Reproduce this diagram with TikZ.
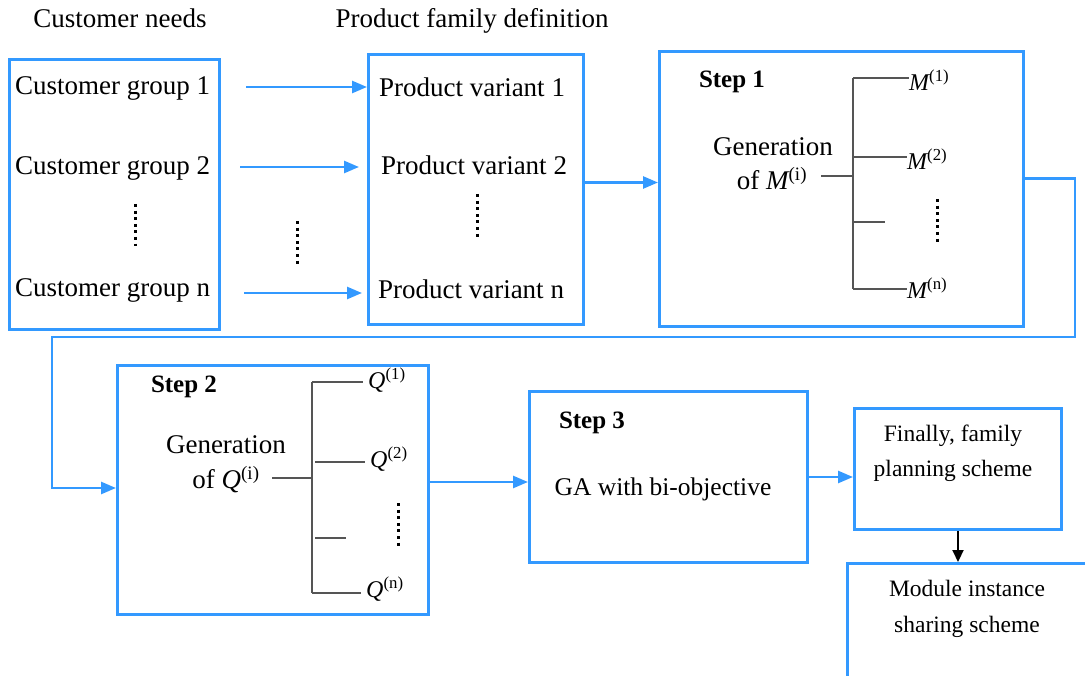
\documentclass[tikz,border=0pt]{standalone}
\usepackage{fontspec}
\setmainfont{Liberation Serif}
\usetikzlibrary{arrows.meta,calc}
\definecolor{bl}{HTML}{3399FF}
\definecolor{treegray}{HTML}{555555}
\begin{document}
\begin{tikzpicture}[x=1pt,y=-1pt,
  box/.style={draw=bl, line width=3pt, inner sep=0pt, anchor=north west, fill=white},
  txt/.style={inner sep=0pt, font=\fontsize{27}{30}\selectfont},
  stxt/.style={inner sep=0pt, font=\fontsize{23.5}{36}\selectfont, align=center},
  boldtxt/.style={inner sep=0pt, font=\fontsize{25}{28}\selectfont\bfseries},
  lbl/.style={inner sep=0pt, anchor=west, font=\fontsize{24}{28}\selectfont},
  arr/.style={draw=bl, line width=2.6pt, -{Triangle[length=15pt,width=12pt]}},
  blackarr/.style={draw=black, line width=2.2pt, -{Triangle[length=12pt,width=11pt]}},
  tree/.style={draw=treegray, line width=1.5pt},
  vdots/.style={line width=3pt, dash pattern=on 3pt off 3.6pt}
]
\clip (0,0) rectangle (1085,676);
\fill[white] (0,0) rectangle (1085,676);

% headings
\node[txt] (h1) at (120,18) {Customer needs};
\node[txt] (h2) at (472,21) {Product family definition};

% boxes
\node[box, minimum width=210pt, minimum height=270pt] (b1) at (8,58) {};
\node[box, minimum width=215pt, minimum height=270pt] (b2) at (367,53) {};
\node[box, minimum width=364pt, minimum height=275pt] (b3) at (658,50) {};
\node[box, minimum width=311pt, minimum height=249pt] (b4) at (116,364) {};
\node[box, minimum width=278pt, minimum height=171pt] (b5) at (528,390) {};
\node[box, minimum width=207pt, minimum height=121pt] (b6) at (853,407) {};
\node[box, minimum width=280pt, minimum height=160pt] (b7) at (846,562) {};

% box 1 content
\node[txt, anchor=west] (cg1) at (15,88) {Customer group 1};
\node[txt, anchor=west] (cg2) at (15,168) {Customer group 2};
\node[txt, anchor=west] (cgn) at (15,290) {Customer group n};
\coordinate (d1a) at (135,204);
\coordinate (d1b) at (135,246);
\draw[vdots] (d1a) -- (d1b);

% middle dots
\coordinate (dma) at (297,221);
\coordinate (dmb) at (297,265);
\draw[vdots] (dma) -- (dmb);

% box 2 content
\node[txt] (pv1) at (472,87) {Product variant 1};
\node[txt] (pv2) at (474,165) {Product variant 2};
\node[txt] (pvn) at (471,289) {Product variant n};
\coordinate (d2a) at (477,194);
\coordinate (d2b) at (477,238);
\draw[vdots] (d2a) -- (d2b);

% arrows customers -> variants
\coordinate (s1) at (246,87);
\coordinate (s2) at (240,167);
\coordinate (s3) at (244,293);
\draw[arr] (s1) -- (s1 -| b2.west);
\draw[arr] (s2) -- ($(s2 -| b2.west)+(-8,0)$);
\draw[arr] (s3) -- ($(s3 -| b2.west)+(-5,0)$);

% box 3 content
\node[boldtxt] (st1) at (732,82) {Step 1};
\node[txt] (gen1) at (773,147) {Generation};
\node[txt] (of1) at (772,179) {of {\itshape M}\textsuperscript{(i)}};
\coordinate (t1h) at (821,176);
\coordinate (t1j) at (853,176);
\coordinate (t1a) at (853,78);
\coordinate (t1b) at (853,157);
\coordinate (t1c) at (853,222);
\coordinate (t1d) at (853,289);
\draw[tree] (t1h) -- (t1j);
\draw[tree] (t1a) -- (t1d);
\node[lbl] (m1) at (909,80) {{\itshape M}\textsuperscript{(1)}};
\node[lbl] (m2) at (907,159) {{\itshape M}\textsuperscript{(2)}};
\node[lbl] (mn) at (907,288) {{\itshape M}\textsuperscript{(n)}};
\draw[tree] (t1a) -- (t1a -| m1.west);
\draw[tree] (t1b) -- (t1b -| m2.west);
\draw[tree] (t1c) -- ++(32,0);
\draw[tree] (t1d) -- (t1d -| mn.west);
\coordinate (d3a) at (937,199);
\coordinate (d3b) at (937,243);
\draw[vdots] (d3a) -- (d3b);

% b2 -> b3
\draw[arr] ($(b2.east)+(0,-7)$) -- ($(b2.east -| b3.west)+(0,-7)$);

% b3 -> b4
\coordinate (r1) at (1075,337);
\coordinate (r2) at (52,488);
\draw[arr] ($(b3.east)+(0,-10.5)$) -| (r1) -| (r2) -- (r2 -| b4.west);

% box 4 content
\node[boldtxt] (st2) at (184,387) {Step 2};
\node[txt] (gen2) at (226,445) {Generation};
\node[txt] (of2) at (226,480) {of {\itshape Q}\textsuperscript{(i)}};
\coordinate (t2h) at (272,478);
\coordinate (t2j) at (312,478);
\coordinate (t2a) at (312,382);
\coordinate (t2b) at (315,462);
\coordinate (t2c) at (315,538);
\coordinate (t2d) at (312,593);
\draw[tree] (t2h) -- (t2j);
\draw[tree] (t2a) -- (t2d);
\node[lbl] (q1) at (368,380) {{\itshape Q}\textsuperscript{(1)}};
\node[lbl] (q2) at (370,459) {{\itshape Q}\textsuperscript{(2)}};
\node[lbl] (qn) at (366,589) {{\itshape Q}\textsuperscript{(n)}};
\draw[tree] (t2a) -- ($(t2a -| q1.west)+(-5,0)$);
\draw[tree] (t2b) -- ($(t2b -| q2.west)+(-5,0)$);
\draw[tree] (t2c) -- ++(31,0);
\draw[tree] (t2d) -- ($(t2d -| qn.west)+(-5,0)$);
\coordinate (d4a) at (398,503);
\coordinate (d4b) at (398,546);
\draw[vdots] (d4a) -- (d4b);

% b4 -> b5
\draw[arr] ($(b4.east)+(0,-8)$) -- ($(b4.east -| b5.west)+(0,-8)$);

% box 5 content
\node[boldtxt] (st3) at (592,423) {Step 3};
\node[txt, font=\fontsize{25.5}{30}\selectfont] (ga) at (663,489) {GA with bi-objective};

% b5 -> b6
\draw[arr] (b5.east) -- (b5.east -| b6.west);

% box 6 content
\node[stxt, font=\fontsize{23.5}{35}\selectfont] (fin) at (953,453) {Finally, family\\planning scheme};

% b6 -> b7
\draw[blackarr] (b6.south) -- (b6.south |- b7.north);

% box 7 content
\node[stxt] (mod) at (967,609) {Module instance\\sharing scheme};
\end{tikzpicture}
\end{document}
